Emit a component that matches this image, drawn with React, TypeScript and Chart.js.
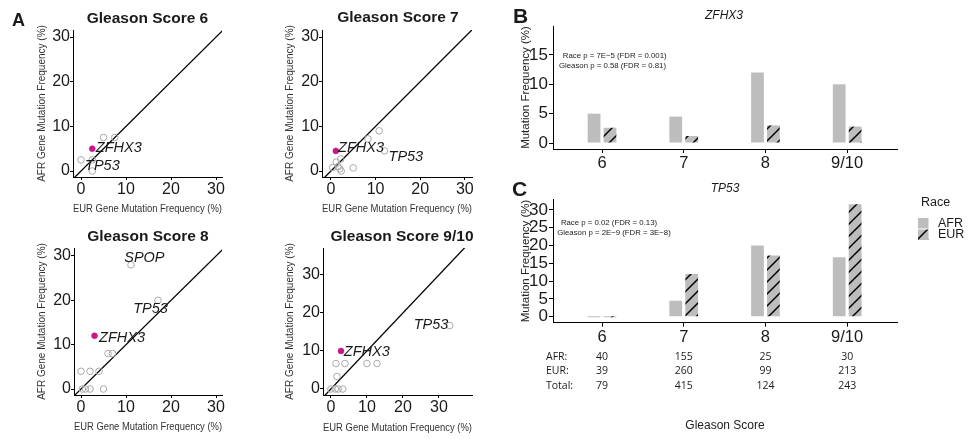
import React, { useEffect, useRef } from 'react';
import { Chart, registerables } from 'chart.js';
Chart.register(...registerables);

// ---------------- DATA ----------------
const scatterTitles = ['Gleason Score 6', 'Gleason Score 7', 'Gleason Score 8', 'Gleason Score 9/10'];
const scatterTicks = [0, 10, 20, 30];
const identityLine = [-5, 50];

// other genes: EUR (x) and AFR (y) mutation frequency (%)
const gs6EUR = [0, 2.5, 2.5, 5, 7.5];
const gs6AFR = [2.5, 2.5, 0, 7.5, 7.5];
const gs6ZFHX3 = [2.5, 5]; // [EUR, AFR]

const gs7EUR = [0.4, 1.2, 1.6, 2.0, 2.2, 2.3, 5.0, 8.3, 10.8, 12.0];
const gs7AFR = [0.8, 2.0, 1.0, 0.5, 2.7, 0.0, 0.7, 7.2, 9.0, 4.5];
const gs7ZFHX3 = [1.1, 4.5];

const gs8EUR = [0.3, 1, 2, 5, 0, 2, 4, 6, 7, 11.1, 17.1];
const gs8AFR = [0, 0, 0, 0, 4, 4, 4, 8, 8, 28, 20];
const gs8ZFHX3 = [3, 12];

const gs910EUR = [0, 1.2, 2, 3.3, 1.7, 1.4, 3.9, 10, 12.8, 33];
const gs910AFR = [0, 0, 0, 0, 3.3, 6.7, 6.7, 6.7, 6.7, 16.7];
const gs910ZFHX3 = [2.8, 10];

const gleasonCategories = ['6', '7', '8', '9/10'];
const raceLabels = ['AFR', 'EUR'];
const zfhx3AFR = [5.0, 4.5, 12.0, 10.0];
const zfhx3EUR = [2.6, 1.2, 3.0, 2.8];
const tp53AFR = [0, 4.5, 20.0, 16.7];
const tp53EUR = [0, 12.0, 17.2, 31.6];
const zfhx3Ticks = [0, 5, 10, 15];
const tp53Ticks = [0, 5, 10, 15, 20, 25, 30];

const countAFR = [40, 155, 25, 30];
const countEUR = [39, 260, 99, 213];
const countTotal = [79, 415, 124, 243];

// ---------------- STYLE ----------------
const FONT = '"Liberation Sans", Arial, Helvetica, sans-serif';
const TABLE_FONT = '"Open Sans", "Liberation Sans", sans-serif';
const GRAY = '#bdbdbd';
const MAGENTA = '#c8168a';
const TEXT = '#1a1a1a';

type Rect = { left: number; top: number; width: number; height: number };

function makeHatch(): CanvasPattern | string {
  const s = 12;
  const pc = document.createElement('canvas');
  pc.width = s;
  pc.height = s;
  const g = pc.getContext('2d');
  if (!g) return GRAY;
  g.fillStyle = GRAY;
  g.fillRect(0, 0, s, s);
  g.strokeStyle = '#000';
  g.lineWidth = 1.5;
  g.beginPath();
  g.moveTo(0, s);
  g.lineTo(s, 0);
  g.moveTo(-3, 3);
  g.lineTo(3, -3);
  g.moveTo(s - 3, s + 3);
  g.lineTo(s + 3, s - 3);
  g.stroke();
  return g.createPattern(pc, 'repeat') || GRAY;
}

function ChartPanel({ rect, make }: { rect: Rect; make: () => any }) {
  const ref = useRef<HTMLCanvasElement>(null);
  useEffect(() => {
    const c = ref.current;
    if (!c) return;
    const chart = new Chart(c, make());
    return () => chart.destroy();
  }, []);
  return (
    <canvas
      ref={ref}
      width={rect.width}
      height={rect.height}
      style={{ position: 'absolute', left: rect.left, top: rect.top, width: rect.width, height: rect.height }}
    />
  );
}

type Area = { L: number; R: number; T: number; B: number };

function axisCommon(tickVals: number[], tickSize: number, tickLen: number, pad: number) {
  return {
    type: 'linear' as const,
    offset: false,
    afterBuildTicks: (s: any) => {
      s.ticks = tickVals.map((v) => ({ value: v }));
    },
    border: { display: true, color: '#000', width: 1 },
    grid: { display: true, offset: false, drawOnChartArea: false, drawTicks: true, tickLength: tickLen, tickColor: '#000', lineWidth: 1 },
    ticks: { font: { family: FONT, size: tickSize }, color: TEXT, padding: pad, maxRotation: 0, autoSkip: false },
  };
}

type ScatterSpec = {
  title: string;
  eur: number[];
  afr: number[];
  z: number[];
  labels: { gene: string; x: number; y: number }[];
  canvas: Rect;
  area: Area;
  x: number[];
  y: number[];
  yTitleX: number;
  xTitleY: number;
  titleX: number;
  titleY: number;
};

function scatterConfig(p: ScatterSpec) {
  const { left: cl, top: ct, width: cw, height: ch } = p.canvas;
  const { L, R, T, B } = p.area;
  const lh = 12;
  const labelPlugin = {
    id: 'geneLabels',
    afterDatasetsDraw(chart: any) {
      const ctx = chart.ctx;
      const xs = chart.scales.x;
      const ys = chart.scales.y;
      ctx.save();
      ctx.font = `italic 14.5px ${FONT}`;
      ctx.fillStyle = TEXT;
      ctx.textAlign = 'left';
      ctx.textBaseline = 'middle';
      p.labels.forEach((l) => {
        ctx.fillText(l.gene, xs.getPixelForValue(l.x), ys.getPixelForValue(l.y));
      });
      ctx.restore();
    },
  };
  const xAxis: any = axisCommon(scatterTicks, 16, 3, 0);
  const yAxis: any = axisCommon(scatterTicks, 16, 3, 0);
  return {
    type: 'scatter',
    data: {
      datasets: [
        {
          data: [{ x: p.z[0], y: p.z[1] }],
          pointRadius: 3,
          backgroundColor: MAGENTA,
          borderColor: MAGENTA,
          borderWidth: 0.5,
        },
        {
          data: p.eur.map((x, i) => ({ x, y: p.afr[i] })),
          pointRadius: 3.3,
          backgroundColor: 'rgba(0,0,0,0)',
          borderColor: '#a9a9a9',
          borderWidth: 1,
        },
        {
          data: identityLine.map((v) => ({ x: v, y: v })),
          showLine: true,
          pointRadius: 0,
          borderColor: '#000',
          borderWidth: 1.3,
          fill: false,
        },
      ],
    },
    options: {
      responsive: false,
      animation: false,
      events: [],
      layout: { padding: { left: 0, top: T - ct, right: cl + cw - R, bottom: 0 } },
      plugins: { legend: { display: false }, tooltip: { enabled: false } },
      scales: {
        x: {
          ...xAxis,
          min: p.x[0],
          max: p.x[1],
          afterFit: (s: any) => {
            s.height = ct + ch - B;
          },
          title: {
            display: true,
            text: 'EUR Gene Mutation Frequency (%)',
            font: { family: FONT, size: 10 },
            color: '#333',
            padding: { top: 0, bottom: ch - (p.xTitleY - ct) - lh / 2 },
          },
        },
        y: {
          ...yAxis,
          min: p.y[0],
          max: p.y[1],
          afterFit: (s: any) => {
            s.width = L - cl;
          },
          title: {
            display: true,
            text: 'AFR Gene Mutation Frequency (%)',
            font: { family: FONT, size: 10 },
            color: '#333',
            padding: { top: p.yTitleX - cl - lh / 2, bottom: 0 },
          },
        },
      },
    },
    plugins: [labelPlugin],
  };
}

type BarSpec = {
  afr: number[];
  eur: number[];
  ticks: number[];
  canvas: Rect;
  area: Area;
  y: number[];
  yTitleX: number;
  xTitle?: string;
  xTitleY?: number;
  extra?: any[];
};

function barConfig(p: BarSpec, hatch: any) {
  const { left: cl, top: ct, width: cw, height: ch } = p.canvas;
  const { L, R, T, B } = p.area;
  const ylh = 11.5 * 1.2;
  const xlh = 12 * 1.2;
  const xAxis: any = axisCommon(gleasonCategories.map((_, i) => i), 16.5, 4, 1);
  const yAxis: any = axisCommon(p.ticks, 17, 4, 1);
  xAxis.afterBuildTicks = (s: any) => {
    s.ticks = gleasonCategories.map((_, i) => ({ value: i }));
  };
  xAxis.ticks.callback = (v: any) => gleasonCategories[Math.round(v)] ?? '';
  return {
    type: 'bar',
    data: {
      datasets: [
        {
          label: raceLabels[0],
          data: p.afr.map((v, i) => ({ x: i, y: v })),
          backgroundColor: GRAY,
          categoryPercentage: 0.39,
          barPercentage: 0.8,
          minBarLength: 1,
        },
        {
          label: raceLabels[1],
          data: p.eur.map((v, i) => ({ x: i, y: v })),
          backgroundColor: hatch,
          categoryPercentage: 0.39,
          barPercentage: 0.8,
          minBarLength: 1,
        },
      ],
    },
    options: {
      responsive: false,
      animation: false,
      events: [],
      layout: { padding: { left: 0, top: T - ct, right: cl + cw - R, bottom: 0 } },
      plugins: { legend: { display: false }, tooltip: { enabled: false } },
      scales: {
        x: {
          ...xAxis,
          min: -0.6,
          max: 3.61,
          afterFit: (s: any) => {
            s.height = ct + ch - B;
          },
          title: p.xTitle
            ? {
                display: true,
                text: p.xTitle,
                font: { family: FONT, size: 12 },
                color: '#222',
                padding: { top: 0, bottom: ch - ((p.xTitleY as number) - ct) - xlh / 2 },
              }
            : { display: false },
        },
        y: {
          ...yAxis,
          min: p.y[0],
          max: p.y[1],
          afterFit: (s: any) => {
            s.width = L - cl;
          },
          title: {
            display: true,
            text: 'Mutation Frequency (%)',
            font: { family: FONT, size: 11.5 },
            color: '#222',
            padding: { top: p.yTitleX - cl - ylh / 2, bottom: 0 },
          },
        },
      },
    },
    plugins: p.extra || [],
  };
}

// table of sample counts and Race legend, drawn in the TP53 chart
function tablePlugin(canvasTop: number, canvasLeft: number) {
  return {
    id: 'countTable',
    afterDraw(chart: any) {
      const ctx = chart.ctx;
      const xs = chart.scales.x;
      const rows: [string, number[], number][] = [
        ['AFR:', countAFR, 357],
        ['EUR:', countEUR, 371],
        ['Total:', countTotal, 386],
      ];
      ctx.save();
      ctx.font = `10.5px ${TABLE_FONT}`;
      ctx.fillStyle = TEXT;
      ctx.textBaseline = 'middle';
      rows.forEach(([lab, vals, yAbs]) => {
        const y = yAbs - canvasTop;
        ctx.textAlign = 'left';
        ctx.fillText(lab, 546 - canvasLeft, y);
        ctx.textAlign = 'center';
        vals.forEach((v, i) => ctx.fillText(String(v), xs.getPixelForValue(i), y));
      });
      ctx.restore();
    },
  };
}

function legendPlugin(canvasTop: number, canvasLeft: number) {
  return {
    id: 'raceLegend',
    afterDraw(chart: any) {
      const ctx = chart.ctx;
      ctx.save();
      ctx.textBaseline = 'middle';
      ctx.textAlign = 'left';
      ctx.fillStyle = TEXT;
      ctx.font = `12.5px ${FONT}`;
      ctx.fillText('Race', 921 - canvasLeft, 203 - canvasTop);
      const keys = [218, 229.5];
      chart.data.datasets.forEach((ds: any, i: number) => {
        ctx.fillStyle = ds.backgroundColor;
        ctx.fillRect(918 - canvasLeft, keys[i] - canvasTop, 10.5, 10.5);
        ctx.fillStyle = TEXT;
        ctx.fillText(ds.label, 938 - canvasLeft, keys[i] + 5.5 - canvasTop);
      });
      ctx.restore();
    },
  };
}

// ---------------- LAYOUT ----------------
const scatterSpecs: ScatterSpec[] = [
  {
    title: scatterTitles[0], eur: gs6EUR, afr: gs6AFR, z: gs6ZFHX3,
    labels: [{ gene: 'ZFHX3', x: 3.3, y: 5.1 }, { gene: 'TP53', x: 0.9, y: 1.1 }],
    canvas: { left: 10, top: 16, width: 230, height: 204 },
    area: { L: 73, R: 222, T: 30, B: 177 },
    x: [-1.78, 31.33], y: [-1.34, 31.57],
    yTitleX: 42, xTitleY: 209, titleX: 147.5, titleY: 17.5,
  },
  {
    title: scatterTitles[1], eur: gs7EUR, afr: gs7AFR, z: gs7ZFHX3,
    labels: [{ gene: 'ZFHX3', x: 1.6, y: 5.1 }, { gene: 'TP53', x: 12.9, y: 3.1 }],
    canvas: { left: 260, top: 16, width: 230, height: 204 },
    area: { L: 322, R: 472, T: 30, B: 177 },
    x: [-2.0, 31.6], y: [-1.34, 31.57],
    yTitleX: 290, xTitleY: 209, titleX: 398, titleY: 17,
  },
  {
    title: scatterTitles[2], eur: gs8EUR, afr: gs8AFR, z: gs8ZFHX3,
    labels: [
      { gene: 'SPOP', x: 9.6, y: 29.5 },
      { gene: 'TP53', x: 11.6, y: 18.1 },
      { gene: 'ZFHX3', x: 4, y: 11.6 },
    ],
    canvas: { left: 10, top: 234, width: 230, height: 205 },
    area: { L: 74, R: 222, T: 248, B: 395 },
    x: [-1.56, 31.33], y: [-1.35, 31.8],
    yTitleX: 42, xTitleY: 427, titleX: 148, titleY: 236,
  },
  {
    title: scatterTitles[3], eur: gs910EUR, afr: gs910AFR, z: gs910ZFHX3,
    labels: [{ gene: 'TP53', x: 23, y: 16.8 }, { gene: 'ZFHX3', x: 3.6, y: 9.7 }],
    canvas: { left: 260, top: 234, width: 230, height: 205 },
    area: { L: 323, R: 472, T: 248, B: 395 },
    x: [-2.2, 39.2], y: [-1.58, 37.1],
    yTitleX: 290, xTitleY: 428, titleX: 402, titleY: 236,
  },
];

const bRect: Rect = { left: 495, top: 5, width: 420, height: 170 };
const cRect: Rect = { left: 495, top: 170, width: 474, height: 269 };

function Txt({ x, y, text, size, bold, italic, center, family }: any) {
  return (
    <div
      style={{
        position: 'absolute',
        left: x,
        top: y,
        transform: `translate(${center ? '-50%' : '0'}, -50%)`,
        whiteSpace: 'nowrap',
        lineHeight: 1,
        fontFamily: family || FONT,
        fontSize: size,
        fontWeight: bold ? 'bold' : 'normal',
        fontStyle: italic ? 'italic' : 'normal',
        color: TEXT,
      }}
    >
      {text}
    </div>
  );
}

export default function App() {
  const hatchRef = useRef<any>(null);
  const getHatch = () => {
    if (!hatchRef.current) hatchRef.current = makeHatch();
    return hatchRef.current;
  };
  return (
    <div style={{ position: 'absolute', left: 0, top: 0, width: 969, height: 439, background: '#fff', overflow: 'hidden' }}>
      {scatterSpecs.map((s, i) => (
        <ChartPanel key={i} rect={s.canvas} make={() => scatterConfig(s)} />
      ))}
      <ChartPanel
        rect={bRect}
        make={() =>
          barConfig(
            {
              afr: zfhx3AFR, eur: zfhx3EUR, ticks: zfhx3Ticks, canvas: bRect,
              area: { L: 553, R: 897, T: 26, B: 149 }, y: [-1.02, 19.94], yTitleX: 525.5,
            },
            getHatch()
          )
        }
      />
      <ChartPanel
        rect={cRect}
        make={() =>
          barConfig(
            {
              afr: tp53AFR, eur: tp53EUR, ticks: tp53Ticks, canvas: cRect,
              area: { L: 553, R: 897, T: 199.3, B: 322.7 }, y: [-1.69, 33.0], yTitleX: 525.5,
              xTitle: 'Gleason Score', xTitleY: 426,
              extra: [tablePlugin(cRect.top, cRect.left), legendPlugin(cRect.top, cRect.left)],
            },
            getHatch()
          )
        }
      />
      {scatterSpecs.map((s, i) => (
        <Txt key={'t' + i} x={s.titleX} y={s.titleY} text={s.title} size={15.5} bold center />
      ))}
      <Txt x={12} y={19.5} text="A" size={18} bold />
      <Txt x={513} y={15} text="B" size={21} bold />
      <Txt x={512} y={188} text="C" size={21} bold />
      <Txt x={724} y={15} text="ZFHX3" size={12} italic center />
      <Txt x={725} y={188} text="TP53" size={12} italic center />
      <Txt x={614.7} y={56} text="Race p = 7E−5 (FDR = 0.001)" size={7.8} center />
      <Txt x={612.5} y={66} text="Gleason p = 0.58 (FDR = 0.81)" size={7.8} center />
      <Txt x={609} y={222.7} text="Race p = 0.02 (FDR = 0.13)" size={7.8} center />
      <Txt x={614} y={233.3} text="Gleason p = 2E−9 (FDR = 3E−8)" size={7.8} center />
    </div>
  );
}
